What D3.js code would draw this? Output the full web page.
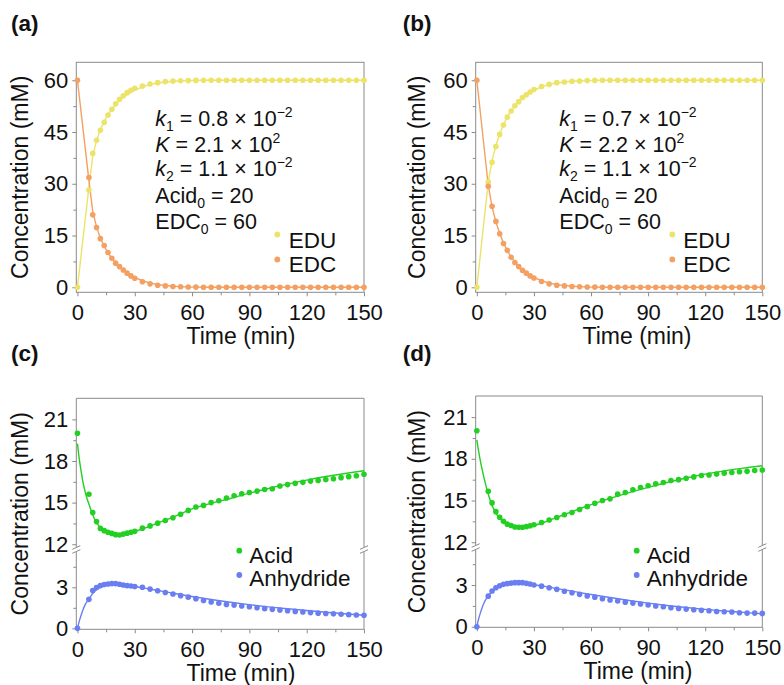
<!DOCTYPE html>
<html><head><meta charset="utf-8">
<script src="https://cdn.jsdelivr.net/npm/d3@7/dist/d3.min.js"></script>
<style>
body{margin:0;background:#fff}
svg{display:block}
text{font-family:"Liberation Sans",Arial,Helvetica,sans-serif;fill:#111}
</style>
</head><body>
<svg id="chart" width="784" height="685"></svg>
<script>
// ---------- DATA ----------
const times = [0,6,8,10,12,14,16,18,20,22,24,26,28,30,34,38,42,46,50,54,58,62,66,70,74,78,82,86,90,94,98,102,106,110,114,118,122,126,130,134,138,142,146,150];

// Panel (a)
const eduA = [0,28.2,38.8,42.6,45.5,47.8,49.9,51.6,53.2,54.5,55.5,56.4,57.1,57.7,58.3,58.9,59.3,59.6,59.75,59.85,59.9,59.95,60,60,60,60,60,60,60,60,60,60,60,60,60,60,60,60,60,60,60,60,60,60];
const edcA = [60,31.8,21.0,17.3,14.1,12.1,10.1,8.4,7.0,6.0,5.0,4.1,3.3,2.6,1.6,1.0,0.6,0.4,0.25,0.15,0.1,0.05,0,0,0,0,0,0,0,0,0,0,0,0,0,0,0,0,0,0,0,0,0,0];
const eduFitA = [0,29.0,38.0,42.5,45.8,48.1,50.0,51.6,52.9,54.0,55.0,55.8,56.5,57.1,58.1,58.8,59.2,59.5,59.7,59.8,59.9,59.95,60,60,60,60,60,60,60,60,60,60,60,60,60,60,60,60,60,60,60,60,60,60];
const edcFitA = [60,31.0,22.0,17.5,14.2,11.9,10.0,8.4,7.1,6.0,5.0,4.2,3.5,2.9,1.9,1.2,0.8,0.5,0.3,0.2,0.1,0.05,0,0,0,0,0,0,0,0,0,0,0,0,0,0,0,0,0,0,0,0,0,0];

// Panel (b)
const eduB = [0,30.5,36.2,40.8,44.3,47.0,49.3,51.1,52.6,53.8,55.0,55.8,56.6,57.3,58.2,58.8,59.3,59.5,59.7,59.8,59.9,59.95,60,60,60,60,60,60,60,60,60,60,60,60,60,60,60,60,60,60,60,60,60,60];
const edcB = [60,29.3,23.5,19.1,15.5,12.7,10.7,8.7,7.2,6.0,4.9,4.1,3.3,2.7,1.7,1.0,0.6,0.4,0.25,0.15,0.1,0.05,0,0,0,0,0,0,0,0,0,0,0,0,0,0,0,0,0,0,0,0,0,0];
const eduFitB = [0,30.5,36.7,41.0,44.4,47.2,49.4,51.2,52.7,53.9,55.0,55.8,56.5,57.1,58.1,58.8,59.2,59.5,59.7,59.8,59.9,59.95,60,60,60,60,60,60,60,60,60,60,60,60,60,60,60,60,60,60,60,60,60,60];
const edcFitB = [60,29.5,23.3,19.0,15.6,12.8,10.6,8.8,7.3,6.1,5.0,4.2,3.5,2.9,1.9,1.2,0.8,0.5,0.3,0.2,0.1,0.05,0,0,0,0,0,0,0,0,0,0,0,0,0,0,0,0,0,0,0,0,0,0];

// Panel (c)
const acidC = [20.0,15.6,14.28,13.63,13.14,12.98,12.86,12.78,12.69,12.66,12.73,12.8,12.86,12.93,13.16,13.32,13.52,13.71,13.91,14.16,14.44,14.68,14.8,15.0,15.13,15.33,15.5,15.64,15.73,15.83,15.95,16.0,16.2,16.3,16.4,16.46,16.55,16.6,16.67,16.72,16.8,16.87,16.94,17.04];
const anhC = [0,2.12,2.76,2.98,3.12,3.2,3.24,3.27,3.27,3.22,3.17,3.12,3.1,3.05,3.0,2.87,2.75,2.62,2.51,2.39,2.28,2.17,2.03,1.93,1.83,1.75,1.7,1.63,1.58,1.51,1.44,1.39,1.34,1.29,1.24,1.19,1.15,1.11,1.08,1.06,1.03,1.0,0.98,0.96];

// Panel (d)
const acidD = [20.02,15.67,14.83,14.2,13.8,13.5,13.3,13.2,13.1,13.07,13.08,13.12,13.18,13.26,13.42,13.6,13.78,13.98,14.14,14.35,14.56,14.8,15.0,15.12,15.46,15.58,15.78,15.94,16.06,16.2,16.3,16.44,16.5,16.6,16.7,16.8,16.84,16.9,16.97,17.02,17.07,17.1,17.16,17.2];
const anhD = [0,2.2,2.57,2.81,2.95,3.05,3.1,3.14,3.17,3.17,3.17,3.12,3.07,3.0,2.92,2.8,2.69,2.55,2.45,2.33,2.21,2.13,2.01,1.92,1.85,1.77,1.7,1.63,1.56,1.49,1.44,1.37,1.32,1.27,1.22,1.18,1.15,1.1,1.08,1.06,1.01,0.98,0.98,0.96];

// Fit curves for (c) and (d)
const fitTimes = [0,1,2,3,4,5,6,8,10,12,14,16,18,20,22,25,30,35,40,50,60,70,80,90,100,110,120,130,140,150];
const acidFitC = [19.25,18.1,17.2,16.4,15.8,15.3,14.9,14.1,13.55,13.2,12.97,12.82,12.73,12.69,12.69,12.74,12.93,13.15,13.42,13.95,14.55,14.95,15.3,15.68,16.02,16.33,16.62,16.88,17.1,17.3];
const anhFitC = [0,0.55,1.0,1.4,1.72,1.95,2.15,2.55,2.82,3.0,3.1,3.16,3.19,3.2,3.19,3.16,3.06,2.94,2.82,2.57,2.33,2.11,1.91,1.73,1.57,1.43,1.3,1.18,1.07,0.96];
const acidFitD = [19.37,18.5,17.75,17.1,16.5,15.95,15.45,14.65,14.1,13.72,13.45,13.27,13.15,13.08,13.05,13.06,13.2,13.42,13.68,14.2,14.7,15.15,15.57,15.95,16.3,16.62,16.9,17.13,17.33,17.5];
const anhFitD = [0,0.6,1.05,1.45,1.78,2.02,2.22,2.55,2.78,2.93,3.03,3.09,3.12,3.13,3.13,3.1,3.02,2.92,2.8,2.56,2.32,2.1,1.89,1.7,1.53,1.38,1.25,1.13,1.03,0.93];

// Tick labels
const xTicks = [0,30,60,90,120,150];
const xMinor = [15,45,75,105,135];
const yTicksTop = [0,15,30,45,60];
const yMinorTop = [7.5,22.5,37.5,52.5];
const yTicksUpper = [12,15,18,21];
const yMinorUpper = [13.5,16.5,19.5];
const yTicksLower = [0,3];
const yMinorLower = [1.5,4.5];

// Annotation parameters
const paramsA = {k1:"0.8", K:"2.1", k2:"1.1", acid0:"20", edc0:"60"};
const paramsB = {k1:"0.7", K:"2.2", k2:"1.1", acid0:"20", edc0:"60"};

const colors = {edu:"#ebe468", edc:"#f3a062", acid:"#22cf22", anh:"#6a7ef2"};

// ---------- DRAW ----------
const svg = d3.select("#chart");
const FRAME = "#8a8a8a";

function pts(ts, vs){ return ts.map((t,i)=>[t, vs[i]]); }

function styleAxis(g, fs){
  g.select(".domain").remove();
  g.selectAll(".tick line").attr("stroke", FRAME);
  g.selectAll(".tick text").attr("font-size", fs).attr("fill","#111")
    .style("font-family","'Liberation Sans',Arial,sans-serif");
}

function xAxis(x, bottom){
  const g = svg.append("g").attr("transform",`translate(0,${bottom})`)
    .call(d3.axisBottom(x).tickValues(xTicks).tickSize(4).tickPadding(8).tickFormat(d3.format("d")));
  styleAxis(g, 22);
  const gm = svg.append("g").attr("transform",`translate(0,${bottom})`)
    .call(d3.axisBottom(x).tickValues(xMinor).tickSize(3).tickFormat(""));
  styleAxis(gm, 22);
}
function yAxis(y, left, major, minor){
  const g = svg.append("g").attr("transform",`translate(${left},0)`)
    .call(d3.axisLeft(y).tickValues(major).tickSize(4).tickPadding(4).tickFormat(d3.format("d")));
  styleAxis(g, 22);
  const gm = svg.append("g").attr("transform",`translate(${left},0)`)
    .call(d3.axisLeft(y).tickValues(minor).tickSize(3).tickFormat(""));
  styleAxis(gm, 22);
}

function dots(x, y, data, color){
  svg.append("g").selectAll("circle").data(data).join("circle")
    .attr("cx", d=>x(d[0])).attr("cy", d=>y(d[1])).attr("r", 2.8).attr("fill", color);
}
function line(x, y, data, color, curve){
  svg.append("path").datum(data)
    .attr("d", d3.line().x(d=>x(d[0])).y(d=>y(d[1])).curve(curve || d3.curveLinear))
    .attr("fill","none").attr("stroke", color).attr("stroke-width", 1.4);
}

function titles(L){
  svg.append("text").attr("x", L.xTitleX).attr("y", L.bottom + 52).attr("text-anchor","middle")
    .attr("font-size", 23).text("Time (min)");
  svg.append("text").attr("transform",`translate(${L.yTitleX},${(L.top+L.bottom)/2}) rotate(-90)`)
    .attr("text-anchor","middle").attr("font-size", 23).text("Concentration (mM)");
  svg.append("text").attr("x", L.labelX).attr("y", L.labelY).attr("font-size", 22.5)
    .attr("font-weight","bold").text(L.label);
}

function legend(items, L){
  items.forEach((it,i)=>{
    svg.append("circle").attr("cx", L.legDotX).attr("cy", L.legDotY[i]).attr("r", 2.9).attr("fill", it.color);
    svg.append("text").attr("x", L.legTextX).attr("y", L.legTextY[i]).attr("font-size", 22.5).text(it.name);
  });
}

function annotation(p, L){
  const lines = [
    [["k","i"],["1","sub"],[" = "+p.k1+" × 10",""],["−2","sup"]],
    [["K","i"],[" = "+p.K+" × 10",""],["2","sup"]],
    [["k","i"],["2","sub"],[" = "+p.k2+" × 10",""],["−2","sup"]],
    [["Acid",""],["0","sub"],[" = "+p.acid0,""]],
    [["EDC",""],["0","sub"],[" = "+p.edc0,""]]
  ];
  const base = [0, 25.5, 50, 77, 103];
  lines.forEach((parts,i)=>{
    const t = svg.append("text").attr("x", L.annX).attr("y", L.annY + base[i]).attr("font-size", 21.5);
    let shift = 0;
    parts.forEach(([s,kind])=>{
      const ts = t.append("tspan").text(s);
      let target = 0;
      if(kind==="i") ts.attr("font-style","italic");
      if(kind==="sub"){ ts.attr("font-size", 14); target = 5; }
      if(kind==="sup"){ ts.attr("font-size", 14); target = -9; }
      ts.attr("dy", target - shift);
      shift = target;
    });
  });
}

function topPanel(L, edu, edc, eduFit, edcFit, params){
  const x = d3.scaleLinear().domain([-0.6,150]).range([L.left, L.right]);
  const y = d3.scaleLinear().domain([-1.45,65.2]).range([L.bottom, L.top]);
  svg.append("rect").attr("x",L.left).attr("y",L.top).attr("width",L.right-L.left).attr("height",L.bottom-L.top)
    .attr("fill","none").attr("stroke",FRAME).attr("stroke-width",1);
  xAxis(x, L.bottom);
  yAxis(y, L.left, yTicksTop, yMinorTop);
  line(x, y, pts(times, eduFit), colors.edu);
  line(x, y, pts(times, edcFit), colors.edc);
  dots(x, y, pts(times, edu), colors.edu);
  dots(x, y, pts(times, edc), colors.edc);
  annotation(params, L);
  legend([{name:"EDU",color:colors.edu},{name:"EDC",color:colors.edc}], L);
  titles(L);
}

function bottomPanel(L, acid, anh, acidFit, anhFit){
  const x = d3.scaleLinear().domain([-0.6,150]).range([L.left, L.right]);
  const yU = d3.scaleLinear().domain([11.8, 22.52]).range([L.breakTop, L.top]);
  const yL = d3.scaleLinear().domain([L.lowMin, L.lowMax]).range([L.bottom, L.breakBot]);
  const fr = svg.append("g").attr("stroke",FRAME).attr("stroke-width",1).attr("fill","none");
  fr.append("line").attr("x1",L.left).attr("x2",L.right).attr("y1",L.top).attr("y2",L.top);
  fr.append("line").attr("x1",L.left).attr("x2",L.right).attr("y1",L.bottom).attr("y2",L.bottom);
  [L.left, L.right].forEach(xx=>{
    fr.append("line").attr("x1",xx).attr("x2",xx).attr("y1",L.top).attr("y2",L.breakTop);
    fr.append("line").attr("x1",xx).attr("x2",xx).attr("y1",L.breakBot).attr("y2",L.bottom);
    [L.breakTop+0.5, L.breakBot-0.5].forEach(yy=>{
      fr.append("line").attr("x1",xx-4).attr("x2",xx+4).attr("y1",yy+1.8).attr("y2",yy-1.8);
    });
  });
  xAxis(x, L.bottom);
  yAxis(yU, L.left, yTicksUpper, yMinorUpper);
  yAxis(yL, L.left, yTicksLower, yMinorLower);
  line(x, yU, pts(fitTimes, acidFit), colors.acid, d3.curveMonotoneX);
  line(x, yL, pts(fitTimes, anhFit), colors.anh, d3.curveMonotoneX);
  dots(x, yU, pts(times, acid), colors.acid);
  dots(x, yL, pts(times, anh), colors.anh);
  legend([{name:"Acid",color:colors.acid},{name:"Anhydride",color:colors.anh}], L);
  titles(L);
}

// ---------- LAYOUT ----------
const LA = {left:76.3,right:364,top:62.3,bottom:292.3,xTitleX:241,yTitleX:27.5,label:"(a)",labelX:11,labelY:31,
  annX:155.3,annY:126,legDotX:277.3,legDotY:[234.5,259.5],legTextX:288.7,legTextY:[248,271.5]};
const LB = {left:475.7,right:762.3,top:62.3,bottom:292.3,xTitleX:637,yTitleX:425,label:"(b)",labelX:402.7,labelY:31,
  annX:559.3,annY:126,legDotX:672.3,legDotY:[234.5,259.5],legTextX:683.3,legTextY:[248,271.5]};
const LC = {left:76.3,right:364,top:398.3,bottom:629.3,breakTop:547,breakBot:552,lowMin:-0.07,lowMax:5.58,
  xTitleX:241,yTitleX:27.5,label:"(c)",labelX:11,labelY:361,
  legDotX:239.3,legDotY:[550.7,575],legTextX:249.3,legTextY:[562.5,586]};
const LD = {left:475.7,right:762.3,top:396,bottom:627.3,breakTop:545,breakBot:550,lowMin:-0.04,lowMax:5.52,
  xTitleX:638,yTitleX:425,label:"(d)",labelX:402.7,labelY:361,
  legDotX:636.7,legDotY:[550.7,575],legTextX:646.7,legTextY:[562.5,586]};

topPanel(LA, eduA, edcA, eduFitA, edcFitA, paramsA);
topPanel(LB, eduB, edcB, eduFitB, edcFitB, paramsB);
bottomPanel(LC, acidC, anhC, acidFitC, anhFitC);
bottomPanel(LD, acidD, anhD, acidFitD, anhFitD);
</script>
</body></html>
